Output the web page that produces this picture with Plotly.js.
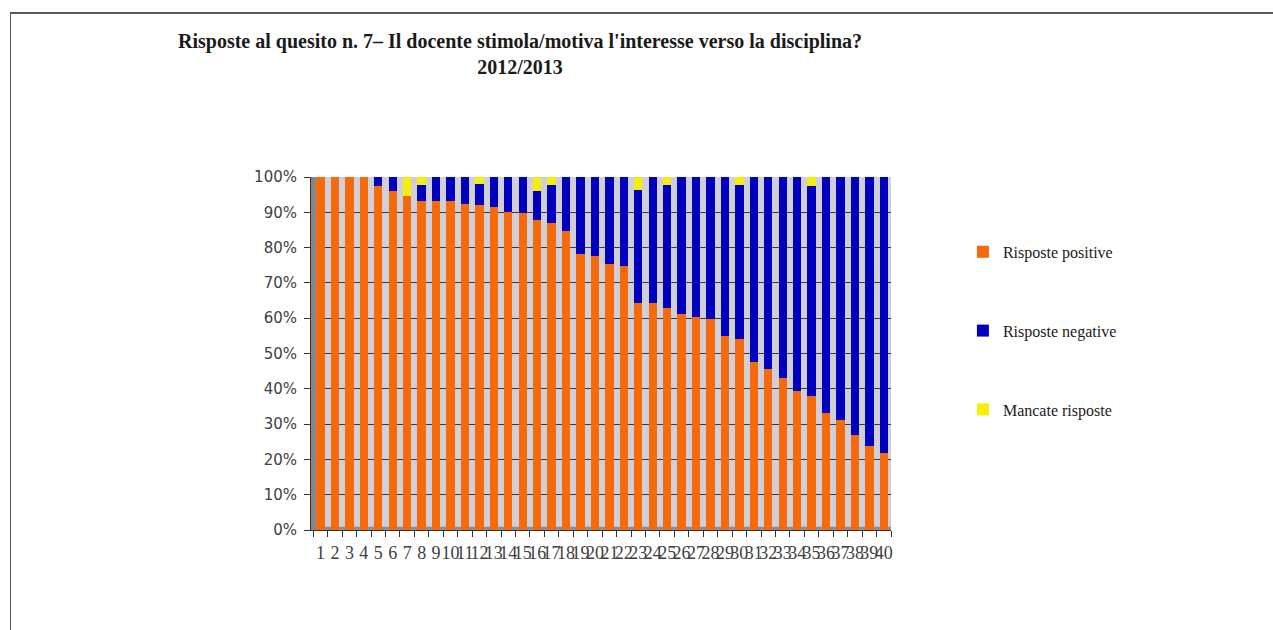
<!DOCTYPE html>
<html>
<head>
<meta charset="utf-8">
<script src="https://cdn.plot.ly/plotly-3.0.1.min.js"></script>
<style>
  html, body { margin: 0; padding: 0; background: #ffffff; }
  #wrap { position: relative; width: 1273px; height: 630px; overflow: hidden; }
  #chart { position: absolute; left: 0; top: 0; width: 1273px; height: 630px; }
  #topline { position: absolute; left: 10px; top: 12px; width: 1263px; height: 2px; background: #5a5a5a; z-index: 5; }
  #leftline { position: absolute; left: 10px; top: 12px; width: 1px; height: 618px; background: #5a5a5a; z-index: 5; }
</style>
</head>
<body>
<div id="wrap">
  <div id="chart"></div>
  <div id="topline"></div>
  <div id="leftline"></div>
</div>
<script>
// Categories (course numbers)
const categories = ['1','2','3','4','5','6','7','8','9','10',
  '11','12','13','14','15','16','17','18','19','20',
  '21','22','23','24','25','26','27','28','29','30',
  '31','32','33','34','35','36','37','38','39','40'];

// Percentages
const positive = [100, 100, 100, 100, 97.5, 96.1, 94.7, 93.3, 93.3, 93.3,
  92.3, 92.0, 91.6, 90.2, 89.9, 87.9, 87.1, 84.8, 78.1, 77.6,
  75.3, 74.8, 64.2, 64.2, 62.9, 61.3, 60.3, 59.8, 54.9, 54.2,
  47.6, 45.7, 43.1, 39.5, 37.9, 33.1, 31.1, 27.0, 23.9, 21.8];

const negative = [0, 0, 0, 0, 2.5, 3.9, 0, 4.5, 6.7, 6.7,
  7.7, 6.0, 8.4, 9.8, 10.1, 8.0, 10.7, 15.2, 21.9, 22.4,
  24.7, 25.2, 32.2, 35.8, 34.9, 38.7, 39.7, 40.2, 45.1, 43.6,
  52.4, 54.3, 56.9, 60.5, 59.6, 66.9, 68.9, 73.0, 76.1, 78.2];

const missing = [0, 0, 0, 0, 0, 0, 5.3, 2.2, 0, 0,
  0, 2.0, 0, 0, 0, 4.1, 2.2, 0, 0, 0,
  0, 0, 3.6, 0, 2.2, 0, 0, 0, 0, 2.2,
  0, 0, 0, 0, 2.5, 0, 0, 0, 0, 0];

const seriesNames = ['Risposte positive', 'Risposte negative', 'Mancate risposte'];
const seriesColors = ['#F46A0C', '#0000BE', '#F5EE0A'];
const yTickVals = [0, 10, 20, 30, 40, 50, 60, 70, 80, 90, 100];
const yTickText = ['0%', '10%', '20%', '30%', '40%', '50%', '60%', '70%', '80%', '90%', '100%'];

const serif = 'Liberation Serif, DejaVu Serif, serif';

const traces = [positive, negative, missing].map((vals, i) => ({
  type: 'bar',
  x: categories,
  y: vals,
  name: seriesNames[i],
  legendgroup: 'g' + i,
  marker: { color: seriesColors[i], line: { width: 0 } },
  hoverinfo: 'x+y+name'
}));

const layout = {
  width: 1273,
  height: 630,
  paper_bgcolor: '#ffffff',
  plot_bgcolor: '#d0cfd8',
  barmode: 'stack',
  bargap: 0.42,
  margin: { l: 311, r: 382, t: 177, b: 100, pad: 0 },
  title: {
    text: "Risposte al quesito n. 7– Il docente stimola/motiva l'interesse verso la disciplina?<br>2012/2013",
    font: { family: serif, size: 20, color: '#1a1a1a', weight: 'bold' },
    xref: 'container', x: 0.4085, xanchor: 'center',
    yref: 'container', y: 0.924, yanchor: 'top'
  },
  xaxis: {
    type: 'category',
    range: [-0.66, 39.5],
    tickmode: 'array',
    tickvals: categories,
    ticktext: categories,
    tickangle: 0,
    ticks: 'outside',
    tickson: 'boundaries',
    ticklen: 6,
    tickcolor: '#333333',
    ticklabelstandoff: 6,
    tickfont: { family: serif, size: 18, color: '#404040' },
    showline: true,
    linecolor: '#333333',
    linewidth: 1,
    showgrid: false,
    zeroline: false,
    fixedrange: true
  },
  yaxis: {
    range: [0, 100],
    tickmode: 'array',
    tickvals: yTickVals,
    ticktext: yTickText,
    ticks: 'outside',
    ticklen: 6,
    tickcolor: '#333333',
    ticklabelstandoff: 4,
    tickfont: { family: 'DejaVu Sans, Verdana, sans-serif', size: 15, color: '#404040' },
    showline: true,
    linecolor: '#333333',
    linewidth: 1,
    showgrid: true,
    gridcolor: '#3a3a3a',
    gridwidth: 1,
    zeroline: false,
    fixedrange: true
  },
  shapes: [
    { type: 'rect', xref: 'x', yref: 'paper', x0: -0.66, x1: -0.32, y0: 0, y1: 1,
      fillcolor: '#858585', line: { width: 0 }, layer: 'above' },
    { type: 'rect', xref: 'paper', yref: 'y', x0: 0, x1: 1, y0: 0, y1: 0.9,
      fillcolor: '#8e8e8e', line: { width: 0 }, layer: 'below' }
  ],
  legend: {
    x: 1.124, xanchor: 'left',
    y: 0.836, yanchor: 'top',
    traceorder: 'grouped',
    tracegroupgap: 55,
    font: { family: serif, size: 16, color: '#1a1a1a' },
    bgcolor: 'rgba(0,0,0,0)',
    itemwidth: 30
  },
  showlegend: true
};

Plotly.newPlot('chart', traces, layout, { displayModeBar: false, staticPlot: true });
</script>
</body>
</html>
